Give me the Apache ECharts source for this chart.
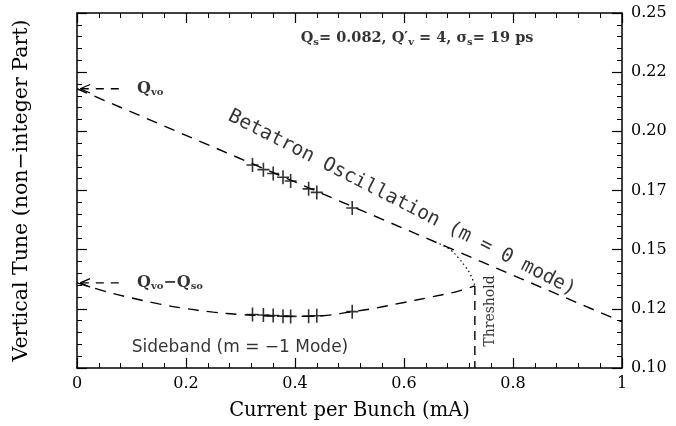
<!DOCTYPE html>
<html>
<head>
<meta charset="utf-8">
<script src="https://cdn.jsdelivr.net/npm/echarts@6/dist/echarts.min.js"></script>
<style>html,body{margin:0;padding:0;background:#fff}#c{width:676px;height:426px}</style>
</head>
<body>
<div id="c"></div>
<script>
// ---- data ----
const xTickLabels = ['0', '0.2', '0.4', '0.6', '0.8', '1'];
const yTickLabels = ['0.10', '0.12', '0.15', '0.17', '0.20', '0.22', '0.25'];

// measured points (bunch current in mA)
const bunchCurrent = [0.322, 0.342, 0.360, 0.378, 0.392, 0.425, 0.440, 0.505];
const betatronTune = [0.1858, 0.1838, 0.1822, 0.1806, 0.1790, 0.1757, 0.1742, 0.1676];
const sidebandTune = [0.1226, 0.1224, 0.1222, 0.1219, 0.1218, 0.1219, 0.1221, 0.1238];

// fitted betatron (m = 0) line
const betatronFitCurrent = [0, 1];
const betatronFitTune = [0.218, 0.1195];

// fitted sideband (m = -1) curve
const sidebandFitCurrent = [0, 0.05, 0.10, 0.15, 0.20, 0.25, 0.30, 0.35, 0.40, 0.45, 0.50, 0.55, 0.60, 0.65, 0.70, 0.73];
const sidebandFitTune = [0.136, 0.1325, 0.1296, 0.1271, 0.1251, 0.1236, 0.1226, 0.1220, 0.1218, 0.1221, 0.1236, 0.1254, 0.1277, 0.1300, 0.1325, 0.1347];

// dotted merging branch
const mergeCurrent = [0.665, 0.685, 0.700, 0.712, 0.722, 0.730];
const mergeTune = [0.1525, 0.1500, 0.1465, 0.1430, 0.1395, 0.1347];

// threshold
const thresholdCurrent = 0.73;
const thresholdTune = [0.1347, 0.10];

// arrows marking Qvo and Qvo-Qso at zero current
const qvo = 0.218;
const qvoMinusQso = 0.136;

// ---- build ----
const zip = (a, b) => a.map((v, i) => [v, b[i]]);
const plusSymbol = 'path://M0,6.2H12V7.8H0Z M5.2,0H6.8V14H5.2Z';
const serif = '"DejaVu Serif", serif';
const sans = '"DejaVu Sans", sans-serif';

function arrowSeries(q) {
  return [
    {
      type: 'line', xAxisIndex: 0, yAxisIndex: 0, silent: true, symbol: 'none',
      data: [[0.007, q], [0.085, q]],
      lineStyle: { color: '#000', width: 1.3, type: [8, 7] }
    },
    {
      type: 'line', xAxisIndex: 0, yAxisIndex: 0, silent: true, symbol: 'none',
      data: [[0.024, q + 0.0018], [0.006, q], [0.024, q - 0.0018]],
      lineStyle: { color: '#000', width: 1.3 }
    }
  ];
}

const qRich = {
  q: { fontFamily: serif, fontWeight: 'bold', fontSize: 16, color: '#000' },
  sub: { fontFamily: serif, fontWeight: 'bold', fontSize: 10, color: '#000', verticalAlign: 'bottom', padding: [8, 0, 0, 0] },
  t: { fontFamily: serif, fontWeight: 'bold', fontSize: 14.5, color: '#000' }
};

const annotations = [
  {
    value: [0.624, 0.2394],
    label: {
      show: true, position: 'inside',
      formatter: '{t|Q}{sub|s}{t|= 0.082, Q\u2032}{sub|v}{t| = 4, \u03c3}{sub|s}{t|= 19 ps}',
      rich: qRich
    }
  },
  {
    value: [0.11, qvo],
    label: {
      show: true, position: 'right', distance: 0,
      formatter: '{q|Q}{sub|vo}', rich: qRich
    }
  },
  {
    value: [0.11, qvoMinusQso],
    label: {
      show: true, position: 'right', distance: 0,
      formatter: '{q|Q}{sub|vo}{q|\u2212Q}{sub|so}', rich: qRich
    }
  },
  {
    value: [0.5963, 0.1697],
    label: {
      show: true, position: 'inside', rotate: -27,
      formatter: 'Betatron Oscillation (m = 0 mode)',
      fontFamily: '"DejaVu Sans Mono", monospace', fontSize: 19.5, color: '#000'
    }
  },
  {
    value: [0.299, 0.1085],
    label: {
      show: true, position: 'inside',
      formatter: 'Sideband (m = \u22121 Mode)',
      fontFamily: sans, fontSize: 17, color: '#000'
    }
  },
  {
    value: [0.758, 0.1241],
    label: {
      show: true, position: 'inside', rotate: 90,
      formatter: 'Threshold',
      fontFamily: serif, fontSize: 14, color: '#000'
    }
  }
];

const axisCommon = {
  axisLine: { show: true, onZero: false, lineStyle: { color: '#000', width: 1.5 } },
  axisTick: { show: true, inside: true, length: 10, lineStyle: { color: '#000', width: 1.2 } },
  minorTick: { show: true, splitNumber: 5, length: 5, lineStyle: { color: '#000', width: 1 } },
  splitLine: { show: false }
};

const option = {
  backgroundColor: '#fff',
  animation: false,
  grid: { left: 77, right: 54, top: 13, bottom: 58 },
  xAxis: [
    Object.assign({}, axisCommon, {
      type: 'value', position: 'bottom', min: 0, max: 1, interval: 0.2,
      name: 'Current per Bunch (mA)', nameLocation: 'middle', nameGap: 33,
      nameTextStyle: { fontFamily: serif, fontSize: 19.5, color: '#000' },
      axisLabel: {
        margin: 8, color: '#000', fontFamily: serif, fontSize: 16,
        formatter: v => xTickLabels[Math.round(v / 0.2)]
      }
    }),
    Object.assign({}, axisCommon, {
      type: 'value', position: 'top', min: 0, max: 1, interval: 0.2,
      axisLabel: { show: false }
    })
  ],
  yAxis: [
    Object.assign({}, axisCommon, {
      type: 'value', position: 'right', min: 0.10, max: 0.25, interval: 0.025,
      axisLabel: {
        margin: 9, color: '#000', fontFamily: serif, fontSize: 16,
        formatter: v => yTickLabels[Math.round((v - 0.10) / 0.025)]
      }
    }),
    Object.assign({}, axisCommon, {
      type: 'value', position: 'left', min: 0.10, max: 0.25, interval: 0.025,
      axisLabel: { show: false },
      name: 'Vertical Tune (non\u2212integer Part)', nameLocation: 'middle', nameGap: 45, nameRotate: 90,
      nameTextStyle: { fontFamily: serif, fontSize: 20.5, color: '#000' }
    })
  ],
  series: [
    {
      name: 'betatron fit', type: 'line', symbol: 'none', silent: true,
      data: zip(betatronFitCurrent, betatronFitTune),
      lineStyle: { color: '#000', width: 1.4, type: [11, 8] }
    },
    {
      name: 'sideband fit', type: 'line', symbol: 'none', silent: true, smooth: 0.4,
      data: zip(sidebandFitCurrent, sidebandFitTune),
      lineStyle: { color: '#000', width: 1.4, type: [11, 8] }
    },
    {
      name: 'merge', type: 'line', symbol: 'none', silent: true, smooth: 0.4,
      data: zip(mergeCurrent, mergeTune),
      lineStyle: { color: '#000', width: 1.2, type: [1.5, 3] }
    },
    {
      name: 'threshold', type: 'line', symbol: 'none', silent: true,
      data: thresholdTune.map(t => [thresholdCurrent, t]),
      lineStyle: { color: '#000', width: 1.4, type: [9, 6] }
    },
    {
      name: 'betatron', type: 'scatter', symbol: plusSymbol, symbolSize: [12, 14],
      data: zip(bunchCurrent, betatronTune),
      itemStyle: { color: '#000' }
    },
    {
      name: 'sideband', type: 'scatter', symbol: plusSymbol, symbolSize: [12, 14],
      data: zip(bunchCurrent, sidebandTune),
      itemStyle: { color: '#000' }
    },
    ...arrowSeries(qvo),
    ...arrowSeries(qvoMinusQso),
    {
      name: 'annotations', type: 'scatter', symbolSize: 0, silent: true,
      data: annotations, itemStyle: { color: 'transparent' }
    }
  ]
};

const chart = echarts.init(document.getElementById('c'), null, { renderer: 'canvas' });
chart.setOption(option);
</script>
</body>
</html>
